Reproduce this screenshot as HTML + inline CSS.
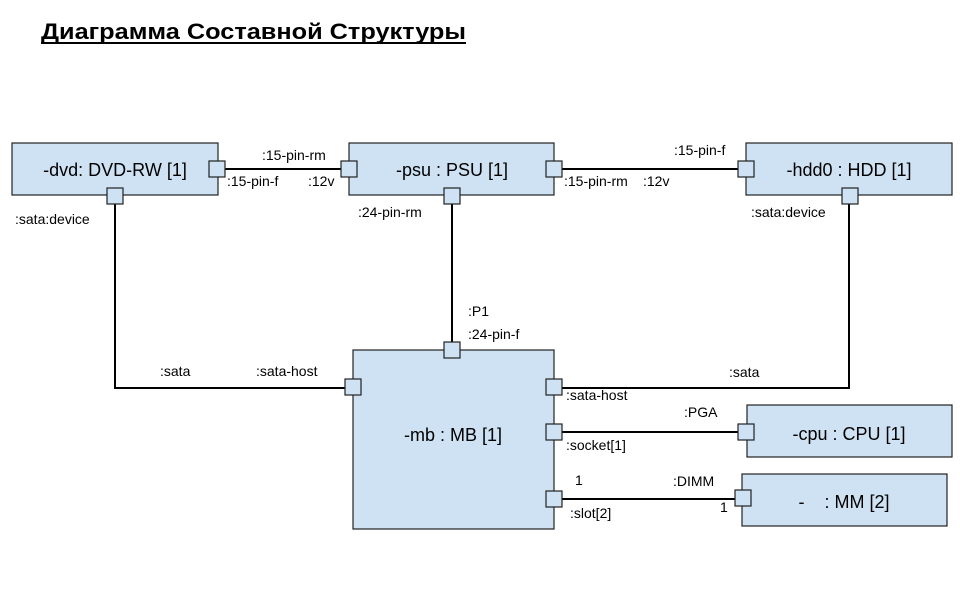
<!DOCTYPE html>
<html><head><meta charset="utf-8"><style>html,body{margin:0;padding:0;background:#fff}svg{display:block}</style></head>
<body>
<svg width="960" height="600" viewBox="0 0 960 600" xmlns="http://www.w3.org/2000/svg" font-family="Liberation Sans, sans-serif">
<rect width="960" height="600" fill="#fff"/>
<text x="41" y="39" font-size="22" font-weight="bold" textLength="425" lengthAdjust="spacingAndGlyphs" fill="#000">Диаграмма Составной Структуры</text>
<line x1="41" y1="43" x2="466" y2="43" stroke="#000" stroke-width="2"/>
<g stroke="#000" stroke-width="2" fill="none">
<line x1="225" y1="169" x2="341" y2="169"/>
<line x1="562" y1="169" x2="738" y2="169"/>
<line x1="452" y1="204" x2="452" y2="342"/>
<polyline points="115,204 115,388 345,388"/>
<polyline points="849,204 849,388 562,388"/>
<line x1="562" y1="432" x2="738" y2="432"/>
<line x1="562" y1="499" x2="735" y2="499"/>
</g>
<g fill="#cfe2f3" stroke="#222" stroke-width="1.2">
<rect x="12" y="143" width="206" height="52"/>
<rect x="349" y="143" width="205" height="52"/>
<rect x="746" y="143" width="206" height="52"/>
<rect x="353" y="350" width="201" height="179"/>
<rect x="747" y="405" width="205" height="52"/>
<rect x="742" y="474" width="205" height="52"/>
<rect x="209" y="161" width="16" height="16"/>
<rect x="107" y="188" width="16" height="16"/>
<rect x="341" y="161" width="16" height="16"/>
<rect x="546" y="161" width="16" height="16"/>
<rect x="444" y="188" width="16" height="16"/>
<rect x="738" y="161" width="16" height="16"/>
<rect x="842" y="188" width="16" height="16"/>
<rect x="444" y="342" width="16" height="16"/>
<rect x="345" y="379" width="16" height="16"/>
<rect x="546" y="379" width="16" height="16"/>
<rect x="546" y="424" width="16" height="16"/>
<rect x="546" y="491" width="16" height="16"/>
<rect x="738" y="424" width="16" height="16"/>
<rect x="735" y="490" width="16" height="16"/>
</g>
<g font-size="18" fill="#000" text-anchor="middle">
<text x="115" y="176">-dvd: DVD-RW [1]</text>
<text x="452" y="176">-psu : PSU [1]</text>
<text x="849" y="176">-hdd0 : HDD [1]</text>
<text x="453" y="441">-mb : MB [1]</text>
<text x="849" y="440">-cpu : CPU [1]</text>
<text x="844" y="508">-&#160;&#160;&#160;&#160;: MM [2]</text>
</g>
<g font-size="14" fill="#000">
<text x="262" y="160">:15-pin-rm</text>
<text x="227" y="186">:15-pin-f</text>
<text x="308" y="186">:12v</text>
<text x="15" y="224">:sata:device</text>
<text x="358" y="217">:24-pin-rm</text>
<text x="564" y="186">:15-pin-rm</text>
<text x="643" y="186">:12v</text>
<text x="674" y="155">:15-pin-f</text>
<text x="751" y="217">:sata:device</text>
<text x="468" y="316">:P1</text>
<text x="468" y="339">:24-pin-f</text>
<text x="160" y="376">:sata</text>
<text x="256" y="376">:sata-host</text>
<text x="729" y="377">:sata</text>
<text x="566" y="400">:sata-host</text>
<text x="684" y="417">:PGA</text>
<text x="566" y="450">:socket[1]</text>
<text x="575" y="485">1</text>
<text x="673" y="486">:DIMM</text>
<text x="720" y="512">1</text>
<text x="570" y="518">:slot[2]</text>
</g>
</svg>
</body></html>
